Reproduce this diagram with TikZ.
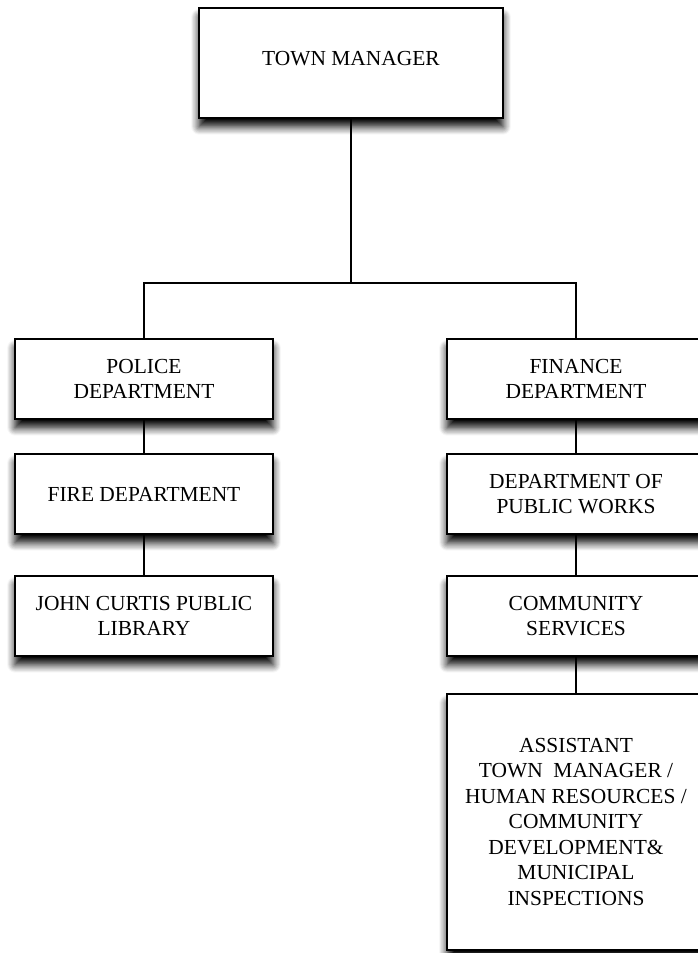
\documentclass[tikz,border=0pt]{standalone}
\usepackage{fontspec}
\setmainfont{Liberation Serif}
\usetikzlibrary{positioning,shadows.blur}
\tikzset{every node/.append style={align=center}}
\tikzset{
  orgbox/.style={draw, line width=1.3pt, fill=white, outer sep=0pt, minimum width=5.16cm, minimum height=1.6cm,
    font=\fontsize{12.2}{14.5}\selectfont,
    blur shadow={shadow xshift=0pt, shadow yshift=-5pt, shadow blur radius=4.5pt, shadow blur steps=8, shadow opacity=100}},
  orgline/.style={line width=1.1pt}
}

\begin{document}
\begin{tikzpicture}[x=0.02cm, y=-0.02cm]
  \useasboundingbox (0,0) rectangle (697,953);

  \node[orgbox, minimum width=6.08cm, minimum height=2.2cm, text depth=5pt] (tm) at (351,63) {TOWN MANAGER};

  \node[orgbox] (police) at (144,379) {POLICE\\DEPARTMENT};
  \node[orgbox, below=0.7cm of police] (fire) {FIRE DEPARTMENT};
  \node[orgbox, below=0.84cm of fire] (library) {JOHN CURTIS PUBLIC\\LIBRARY};

  \node[orgbox] (finance) at (576,379) {FINANCE\\DEPARTMENT};
  \node[orgbox, below=0.7cm of finance] (works) {DEPARTMENT OF\\PUBLIC WORKS};
  \node[orgbox, below=0.84cm of works] (community) {COMMUNITY\\SERVICES};
  \node[orgbox, below=0.76cm of community, minimum height=5.12cm] (assistant)
    {ASSISTANT\\TOWN\ \ MANAGER /\\HUMAN RESOURCES /\\COMMUNITY\\DEVELOPMENT\&\\MUNICIPAL\\INSPECTIONS};

  \coordinate (bus) at (351,283);

  \draw[orgline] (tm.south) -- (bus);
  \draw[orgline] (police.north) |- (bus) -| (finance.north);
  \draw[orgline] (police.south) -- (fire.north);
  \draw[orgline] (fire.south) -- (library.north);
  \draw[orgline] (finance.south) -- (works.north);
  \draw[orgline] (works.south) -- (community.north);
  \draw[orgline] (community.south) -- (assistant.north);
\end{tikzpicture}
\end{document}
